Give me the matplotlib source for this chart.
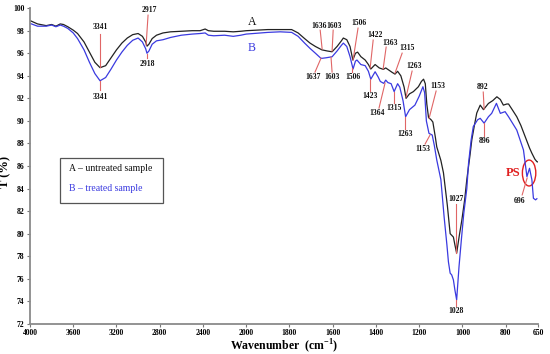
import numpy as np
import matplotlib
matplotlib.use("Agg")
import matplotlib.pyplot as plt
from matplotlib.patches import Ellipse, Rectangle

plt.rcParams["font.family"] = ["Liberation Serif", "DejaVu Serif"]
plt.rcParams["mathtext.fontset"] = "custom"
plt.rcParams["mathtext.rm"] = "Liberation Serif"
plt.rcParams["mathtext.bf"] = "Liberation Serif:bold"

# curve A - untreated sample (wavenumber, T%)
wn_a = [4000, 3930, 3850, 3800, 3760, 3720, 3690, 3650, 3600, 3560, 3500, 3450, 3400, 3352,
        3300, 3250, 3200, 3150, 3100, 3050, 3000, 2960, 2930, 2917, 2900, 2870, 2830, 2770,
        2700, 2600, 2500, 2427, 2380, 2350, 2300, 2200, 2120, 2050, 2000, 1900, 1843, 1790,
        1760, 1730, 1705, 1680, 1650, 1625, 1603, 1580, 1560, 1551, 1535, 1520, 1507, 1495,
        1485, 1470, 1450, 1435, 1424, 1404, 1385, 1366, 1355, 1340, 1325, 1312, 1300, 1285,
        1270, 1261, 1245, 1227, 1204, 1190, 1180, 1172, 1165, 1157, 1145, 1137, 1125, 1119,
        1100, 1088, 1070, 1057, 1042, 1035, 1027, 1015, 1003, 990, 980, 965, 957, 945, 934,
        918, 903, 880, 860, 841, 825, 811, 795, 787, 770, 749, 730, 710, 690, 679, 665, 656, 650]
t_a = [98.9, 98.6, 98.45, 98.55, 98.4, 98.6, 98.55, 98.35, 98.05, 97.75, 97.0, 96.1, 95.2, 94.72,
       94.9, 95.6, 96.3, 96.9, 97.35, 97.65, 97.75, 97.5, 97.0, 96.63, 96.8, 97.3, 97.6, 97.8,
       97.9, 97.95, 98.0, 98.0, 98.15, 98.0, 97.95, 97.95, 97.9, 97.95, 98.0, 98.1, 98.1, 98.1,
       97.8, 97.3, 96.9, 96.6, 96.3, 96.2, 96.13, 96.6, 97.1, 97.35, 97.2, 96.6, 95.4, 96.0,
       96.1, 95.7, 95.4, 95.0, 94.6, 95.0, 94.7, 94.57, 94.7, 94.5, 94.3, 94.15, 94.4, 94.0,
       93.0, 92.0, 92.4, 92.6, 93.03, 93.5, 93.7, 93.3, 91.5, 90.3, 90.1, 89.9, 88.5, 87.7,
       86.5, 85.4, 82.5, 80.0, 79.7, 79.0, 78.27, 79.8, 81.2, 83.0, 84.8, 87.0, 88.3, 89.6, 90.7,
       91.4, 91.0, 91.55, 91.8, 92.14, 91.9, 91.4, 91.5, 91.5, 91.0, 90.37, 89.6, 88.6, 87.6, 87.13,
       86.6, 86.39, 86.35]

# curve B - treated sample
wn_b = [4000, 3930, 3850, 3800, 3760, 3720, 3690, 3650, 3600, 3560, 3500, 3450, 3400, 3352,
        3300, 3250, 3200, 3150, 3100, 3050, 3000, 2960, 2930, 2918, 2900, 2870, 2830, 2770,
        2700, 2600, 2500, 2427, 2380, 2350, 2300, 2200, 2120, 2050, 2000, 1900, 1843, 1790,
        1760, 1730, 1705, 1680, 1654, 1630, 1603, 1580, 1560, 1551, 1535, 1520, 1506, 1495,
        1488, 1470, 1450, 1435, 1424, 1404, 1390, 1380, 1364, 1355, 1345, 1330, 1316, 1300,
        1290, 1275, 1263, 1245, 1220, 1200, 1183, 1175, 1167, 1155, 1140, 1130, 1119, 1100,
        1085, 1072, 1065, 1057, 1050, 1042, 1035, 1027, 1016, 1005, 994, 980, 972, 960, 950,
        930, 918, 900, 880, 865, 843, 825, 803, 787, 749, 718, 702, 690, 679, 672, 662, 656]
t_b = [98.65, 98.4, 98.4, 98.5, 98.35, 98.5, 98.4, 98.2, 97.8, 97.3, 96.3, 95.2, 94.2, 93.56,
       93.85, 94.6, 95.4, 96.1, 96.7, 97.15, 97.35, 97.0, 96.4, 96.0, 96.2, 96.8, 97.1, 97.2,
       97.4, 97.6, 97.7, 97.75, 97.8, 97.6, 97.55, 97.6, 97.5, 97.6, 97.7, 97.85, 97.9, 97.85,
       97.5, 96.9, 96.43, 96.0, 95.54, 95.6, 95.69, 96.2, 96.7, 96.9, 96.6, 95.7, 94.6, 95.3,
       95.4, 95.0, 94.9, 94.4, 93.7, 94.36, 93.9, 93.5, 93.33, 93.62, 93.4, 93.3, 92.6, 93.3,
       93.0, 91.8, 90.37, 91.0, 91.4, 92.2, 93.03, 92.5, 90.0, 88.9, 88.75, 87.8, 86.54, 84.8,
       81.5, 79.0, 77.5, 76.5, 76.35, 75.9, 75.0, 74.13, 77.09, 79.5, 81.8, 84.0, 86.24, 88.3, 89.5,
       90.1, 90.23, 89.8, 90.37, 90.67, 91.56, 90.67, 90.82, 90.37, 89.19, 87.42, 85.06, 85.8,
       84.77, 83.14, 83.0, 83.1]

# peak labels: text, tip of the red line, text position, start of the red line near the text
peak_text = ["3341", "3341", "2917", "2918", "1636", "1603", "1506", "1422", "1363", "1315",
             "1263", "1153", "892", "1637", "1603", "1506", "1423", "1364", "1315", "1263",
             "1153", "896", "1027", "1028", "696"]
peak_x = [3352, 3352, 2926, 2918, 1649, 1603, 1506, 1427, 1367, 1312, 1261, 1154, 900, 1654,
          1608, 1511, 1427, 1358, 1316, 1265, 1150, 900, 1029, 1029, 701]
peak_y = [94.77, 93.53, 96.72, 95.93, 96.37, 96.19, 95.4, 94.69, 94.6, 94.24, 92.12, 90.26,
          91.05, 95.57, 95.66, 94.69, 93.71, 93.36, 92.56, 90.35, 88.75, 89.81, 78.3, 74.14, 84.94]
text_x = [3352, 3352, 2899, 2918, 1663, 1594, 1478, 1404, 1335, 1256, 1224, 1113, 909, 1691,
          1603, 1506, 1427, 1395, 1316, 1265, 1182, 900, 1029, 1029, 738]
text_y = [98.32, 92.12, 99.82, 95.04, 98.4, 98.4, 98.67, 97.6, 96.9, 96.46, 94.86, 93.09,
          93.0, 93.89, 93.89, 93.89, 92.2, 90.7, 91.14, 88.84, 87.51, 88.22, 83.08, 73.16, 82.9]
line_x = [3352, 3352, 2908, 2918, 1658, 1598, 1483, 1413, 1353, 1279, 1233, 1122, 904, 1682,
          1603, 1511, 1427, 1386, 1316, 1265, 1173, 900, 1029, 1029, 724]
line_y = [97.7, 92.74, 99.38, 95.57, 98.05, 98.05, 98.23, 97.17, 96.55, 96.01, 94.42, 92.65,
          92.56, 94.33, 94.33, 94.33, 92.65, 91.14, 91.59, 89.28, 87.95, 88.66, 82.64, 73.6, 83.44]

x_ticks = [4000, 3600, 3200, 2800, 2400, 2000, 1800, 1600, 1400, 1200, 1000, 800, 650]
y_ticks = list(range(72, 101, 2))


def fwd(x):
    x = np.asarray(x, dtype=float)
    return np.where(x > 2000, 2000 + (x - 2000) / 2, x)


def inv(t):
    t = np.asarray(t, dtype=float)
    return np.where(t > 2000, 2000 + 2 * (t - 2000), t)


fig = plt.figure(figsize=(5.5, 3.54), dpi=100)
ax = fig.add_axes([0.0545, 0.085, 0.924, 0.892])
ax.set_xscale("function", functions=(fwd, inv))

ax.plot(wn_a, t_a, color="#222222", lw=0.9)
ax.plot(wn_b, t_b, color="#3a3ae0", lw=0.9)

red = "#e06666"
for i in range(len(peak_text)):
    ax.plot([line_x[i], peak_x[i]], [line_y[i], peak_y[i]], color=red, lw=0.8)
    ax.text(text_x[i], text_y[i], peak_text[i], fontsize=5.5, fontweight="bold",
            ha="center", va="center", color="#111111")

ax.add_patch(Ellipse((692, 85.38), 62, 2.3, fill=False, edgecolor="#e02020", lw=1.0))
ax.text(766, 85.4, "PS", color="#e02020", fontsize=9, fontweight="bold",
        ha="center", va="center")

ax.text(1973, 98.76, "A", fontsize=8.5, ha="center", va="center", color="#111111")
ax.text(1973, 96.46, "B", fontsize=8.5, ha="center", va="center", color="#3a3ae0")

# legend box
ax.add_patch(Rectangle((0.059, 0.383), 0.203, 0.142, transform=ax.transAxes,
                       fill=False, edgecolor="#555555", lw=0.9))
ax.text(0.077, 0.491, "A \u2013 untreated sample", transform=ax.transAxes, fontsize=7,
        va="center", ha="left", color="#111111")
ax.text(0.077, 0.430, "B \u2013 treated sample", transform=ax.transAxes, fontsize=7,
        va="center", ha="left", color="#3a3ae0")

ax.set_xlim(4000, 650)
ax.set_ylim(72, 100)
ax.set_xticks(x_ticks)
ax.set_xticklabels([str(v) for v in x_ticks])
ax.set_yticks(y_ticks)
ax.minorticks_off()
ax.tick_params(labelsize=5.5, length=2, width=0.8, color="#777777", pad=2)
for lab in ax.get_xticklabels() + ax.get_yticklabels():
    lab.set_fontweight("bold")

for s in ["top", "right"]:
    ax.spines[s].set_visible(False)
for s in ["left", "bottom"]:
    ax.spines[s].set_color("#8a8a8a")
    ax.spines[s].set_linewidth(1.3)

ax.set_xlabel("Wavenumber  (cm$^{\\mathbf{-1}}$)", fontsize=8.5, fontweight="bold", labelpad=0)
ax.set_ylabel("T (%)", fontsize=9, fontweight="bold")
ax.yaxis.set_label_coords(-0.037, 0.48)

fig.savefig("out.png", dpi=100)
